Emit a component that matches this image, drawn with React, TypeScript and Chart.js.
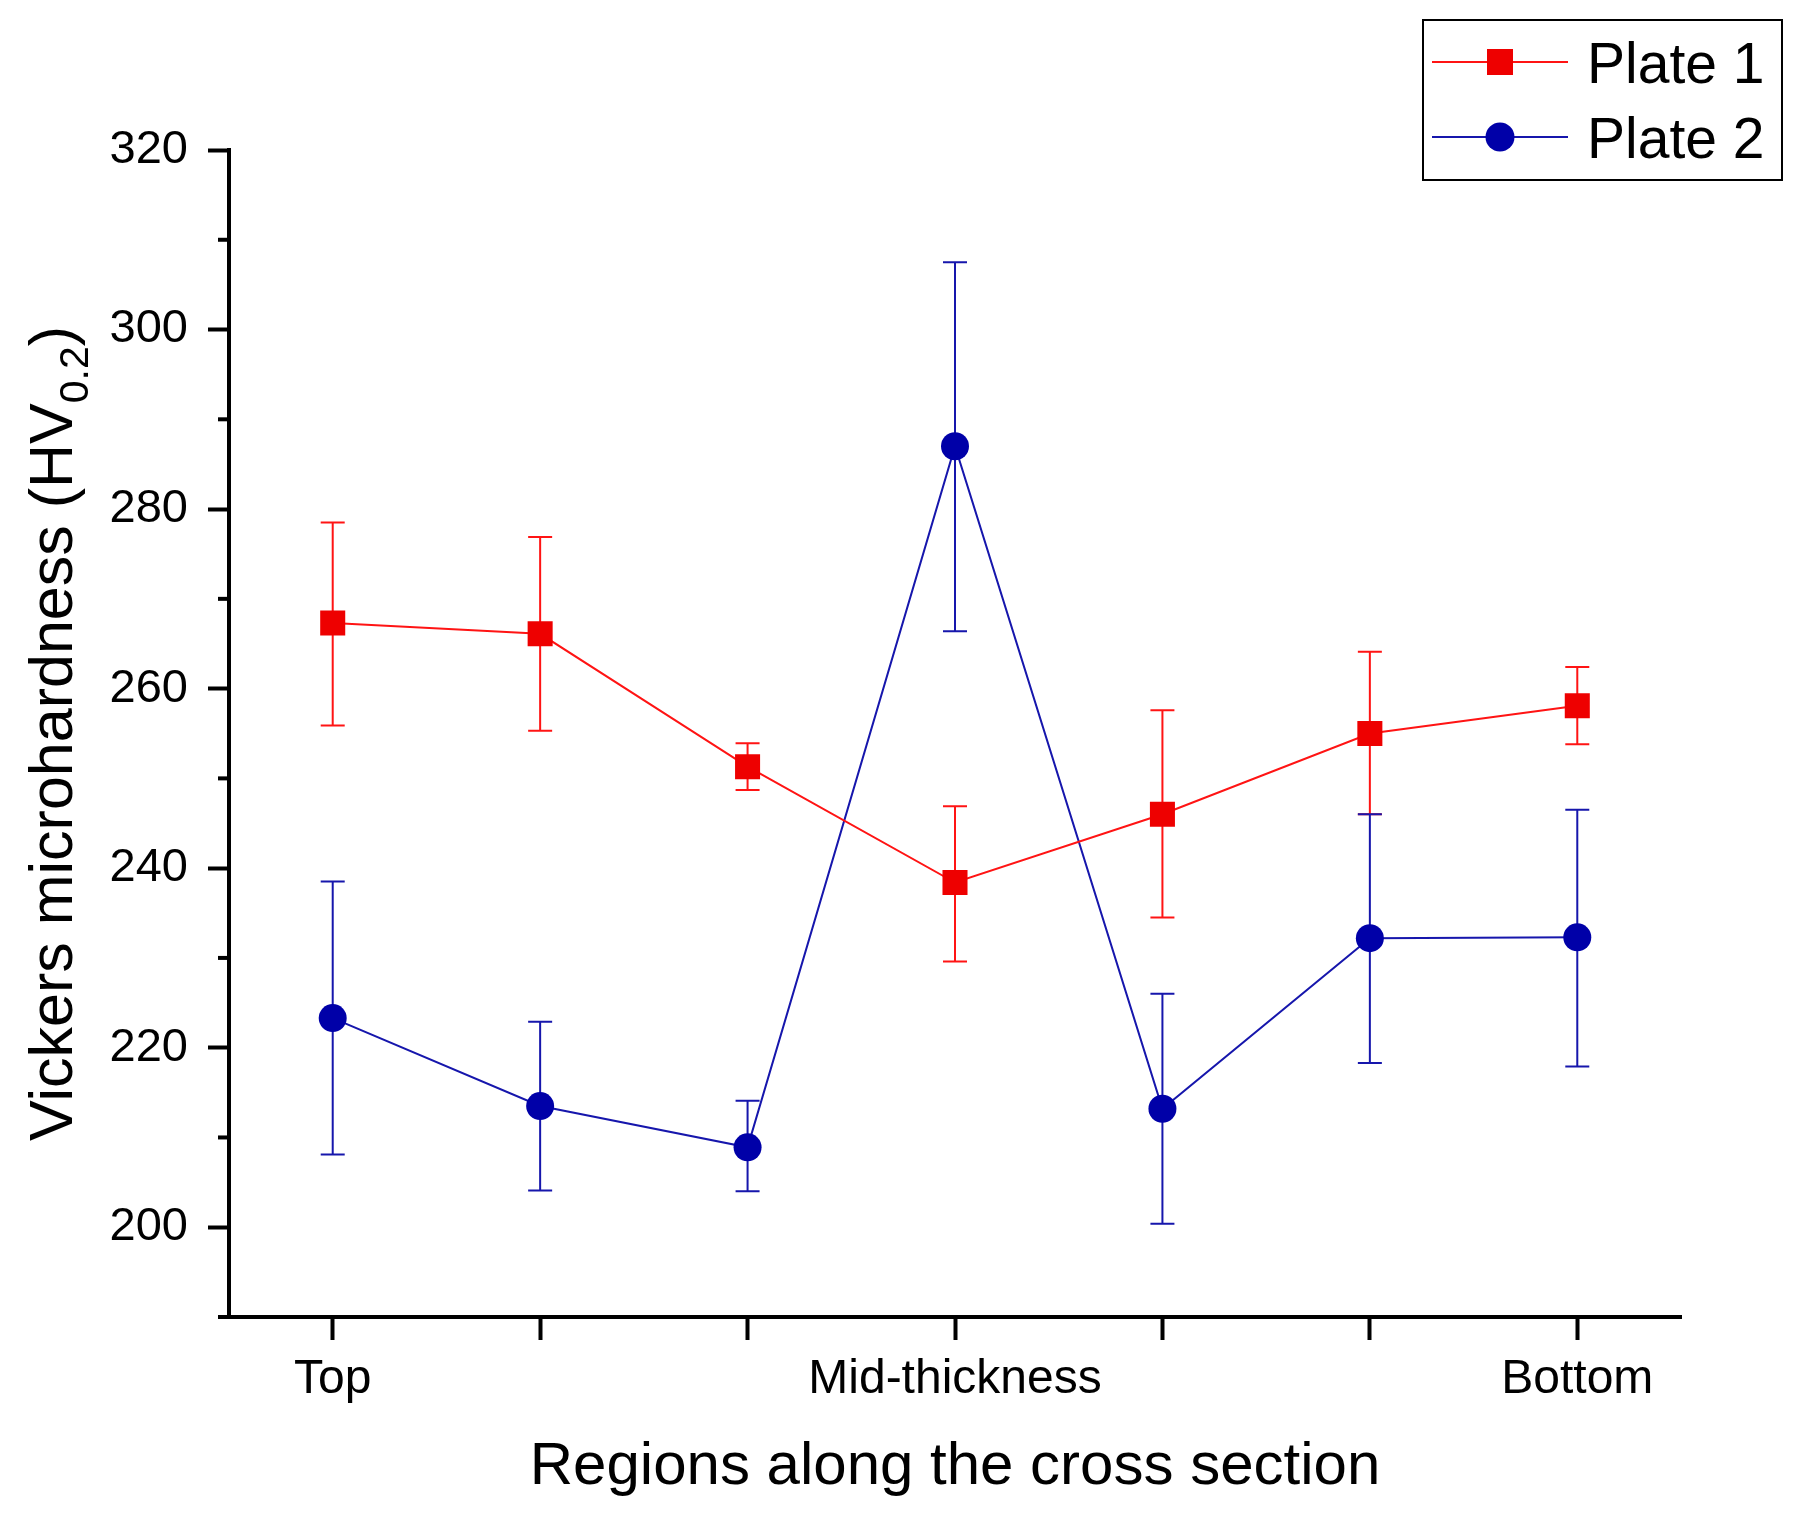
import { useEffect, useRef } from "react";
import { Chart, registerables } from "chart.js";

Chart.register(...registerables);

const FONT = "'Liberation Sans', Arial, sans-serif";

// regions along the cross section (only three of them carry a label)
const regions = ["Top", "", "", "Mid-thickness", "", "", "Bottom"];

const plate1 = [267.3, 266.1, 251.3, 238.4, 246.0, 255.0, 258.1];
const plate1Upper = [278.5, 276.9, 253.9, 246.9, 257.6, 264.1, 262.4];
const plate1Lower = [255.9, 255.3, 248.7, 229.6, 234.5, 246.0, 253.8];

const plate2 = [223.3, 213.5, 208.9, 287.0, 213.2, 232.2, 232.3];
const plate2Upper = [238.5, 222.9, 214.1, 307.5, 226.0, 246.0, 246.5];
const plate2Lower = [208.1, 204.1, 204.0, 266.4, 200.4, 218.3, 217.9];

const yTicks = [200, 220, 240, 260, 280, 300, 320];
const yMinorTicks = [190, 210, 230, 250, 270, 290, 310];

const RED_LINE = "#ff1414";
const RED_MARK = "#ee0000";
const BLUE_LINE = "#1616ac";
const BLUE_MARK = "#0000a8";

// error bars drawn under the markers
const errorBars = {
  id: "errorBars",
  beforeDatasetsDraw(chart: any) {
    const { ctx, scales } = chart;
    const y = scales.y;
    chart.data.datasets.forEach((ds: any, i: number) => {
      const meta = chart.getDatasetMeta(i);
      ctx.save();
      ctx.strokeStyle = ds.borderColor;
      ctx.lineWidth = 2;
      meta.data.forEach((pt: any, j: number) => {
        const top = y.getPixelForValue(ds.upper[j]);
        const bot = y.getPixelForValue(ds.lower[j]);
        ctx.beginPath();
        ctx.moveTo(pt.x, top);
        ctx.lineTo(pt.x, bot);
        ctx.moveTo(pt.x - 12, top);
        ctx.lineTo(pt.x + 12, top);
        ctx.moveTo(pt.x - 12, bot);
        ctx.lineTo(pt.x + 12, bot);
        ctx.stroke();
      });
      ctx.restore();
    });
  },
};

// minor y ticks, y title with subscript, legend box
const decorations = {
  id: "decorations",
  afterDraw(chart: any) {
    const { ctx, chartArea, scales } = chart;
    const y = scales.y;
    ctx.save();

    ctx.strokeStyle = "#000";
    ctx.lineWidth = 4;
    yMinorTicks.forEach((v) => {
      const py = y.getPixelForValue(v);
      ctx.beginPath();
      ctx.moveTo(chartArea.left - 11, py);
      ctx.lineTo(chartArea.left, py);
      ctx.stroke();
    });

    // y axis title
    const main = "Vickers microhardness (HV";
    const sub = "0.2";
    const close = ")";
    const mainFont = `61px ${FONT}`;
    const subFont = `41px ${FONT}`;
    ctx.font = mainFont;
    const wMain = ctx.measureText(main).width;
    const wClose = ctx.measureText(close).width;
    ctx.font = subFont;
    const wSub = ctx.measureText(sub).width;
    const total = wMain + wSub + wClose;
    const cy = (chartArea.top + chartArea.bottom) / 2;
    ctx.translate(72, cy);
    ctx.rotate(-Math.PI / 2);
    ctx.fillStyle = "#000";
    ctx.textBaseline = "alphabetic";
    ctx.textAlign = "left";
    let x0 = -total / 2;
    ctx.font = mainFont;
    ctx.fillText(main, x0, 0);
    x0 += wMain;
    ctx.font = subFont;
    ctx.fillText(sub, x0, 16);
    x0 += wSub;
    ctx.font = mainFont;
    ctx.fillText(close, x0, 0);
    ctx.setTransform(1, 0, 0, 1, 0, 0);

    // legend
    ctx.strokeStyle = "#000";
    ctx.lineWidth = 2;
    ctx.strokeRect(1423, 20, 359, 160);
    const rows = chart.data.datasets.map((ds: any, i: number) => ({
      ds,
      cy: i === 0 ? 62 : 137,
    }));
    rows.forEach(({ ds, cy: ry }: any) => {
      ctx.strokeStyle = ds.borderColor;
      ctx.lineWidth = 2;
      ctx.beginPath();
      ctx.moveTo(1432, ry);
      ctx.lineTo(1568, ry);
      ctx.stroke();
      ctx.fillStyle = ds.pointBackgroundColor;
      if (ds.pointStyle === "rect") {
        ctx.fillRect(1500 - 13, ry - 13, 26, 26);
      } else {
        ctx.beginPath();
        ctx.arc(1500, ry, 14.5, 0, Math.PI * 2);
        ctx.fill();
      }
      ctx.fillStyle = "#000";
      ctx.font = `57px ${FONT}`;
      ctx.textBaseline = "alphabetic";
      ctx.fillText(ds.label, 1587, ry + 21);
    });

    ctx.restore();
  },
};

export default function App() {
  const canvasRef = useRef<HTMLCanvasElement>(null);

  useEffect(() => {
    if (!canvasRef.current) return;
    const chart = new Chart(canvasRef.current, {
      type: "line",
      data: {
        labels: regions,
        datasets: [
          {
            label: "Plate 1",
            data: plate1,
            upper: plate1Upper,
            lower: plate1Lower,
            borderColor: RED_LINE,
            borderWidth: 2,
            pointStyle: "rect",
            pointRadius: 17.7,
            pointBackgroundColor: RED_MARK,
            pointBorderWidth: 0,
            tension: 0,
          } as any,
          {
            label: "Plate 2",
            data: plate2,
            upper: plate2Upper,
            lower: plate2Lower,
            borderColor: BLUE_LINE,
            borderWidth: 2,
            pointStyle: "circle",
            pointRadius: 14,
            pointBackgroundColor: BLUE_MARK,
            pointBorderWidth: 0,
            tension: 0,
          } as any,
        ],
      },
      options: {
        responsive: false,
        devicePixelRatio: 1,
        animation: false,
        layout: { padding: { top: 150, right: 123, left: 0, bottom: 0 } },
        plugins: {
          legend: { display: false },
          tooltip: { enabled: false },
        },
        scales: {
          x: {
            type: "category",
            offset: true,
            grid: {
              drawOnChartArea: false,
              drawTicks: true,
              tickLength: 23,
              tickWidth: 4,
              tickColor: "#000",
            },
            border: { color: "#000", width: 4 },
            ticks: {
              color: "#000",
              font: { family: FONT, size: 48 },
              padding: 11,
              autoSkip: false,
              maxRotation: 0,
            },
            title: {
              display: true,
              text: "Regions along the cross section",
              color: "#000",
              font: { family: FONT, size: 60 },
              padding: { top: 0, bottom: 21 },
            },
            afterFit: (s: any) => {
              s.height = 207;
            },
          },
          y: {
            min: 190,
            max: 320,
            grid: {
              drawOnChartArea: false,
              drawTicks: true,
              tickLength: 21,
              tickWidth: 4,
              tickColor: "#000",
            },
            border: { color: "#000", width: 4 },
            ticks: {
              color: "#000",
              font: { family: FONT, size: 47 },
              padding: 20,
            },
            afterBuildTicks: (s: any) => {
              s.ticks = yTicks.map((v) => ({ value: v }));
            },
            afterFit: (s: any) => {
              s.width = 229;
            },
          },
        },
      },
      plugins: [errorBars, decorations],
    });

    return () => {
      chart.destroy();
    };
  }, []);

  return (
    <div style={{ position: "absolute", left: 0, top: 0, width: 1804, height: 1524, background: "#fff" }}>
      <canvas ref={canvasRef} width={1804} height={1524} />
    </div>
  );
}
